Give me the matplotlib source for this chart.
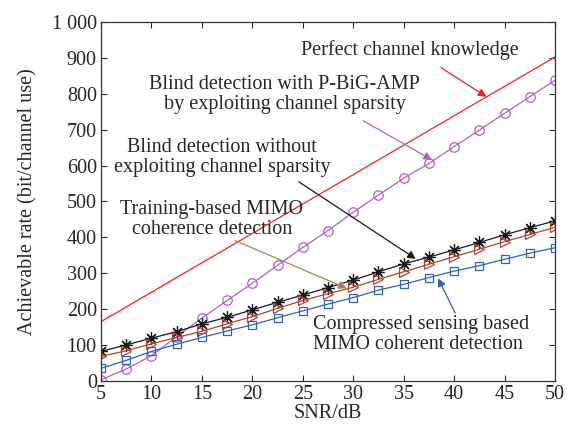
import matplotlib
matplotlib.use("Agg")
import matplotlib.pyplot as plt
from matplotlib.ticker import FuncFormatter

plt.rcParams["font.family"] = ["Liberation Serif", "DejaVu Serif"]
plt.rcParams["mathtext.fontset"] = "stix"

# values
snr = [5, 7.5, 10, 12.5, 15, 17.5, 20, 22.5, 25, 27.5, 30, 32.5, 35, 37.5, 40, 42.5, 45, 47.5, 50]
perfect = [165, 206, 247, 288, 329, 370, 411, 452, 493, 534, 575, 616, 657, 698, 739, 780, 821, 862, 903]
pbigamp = [3, 33, 70, 123, 175, 224, 272, 322, 372, 419, 470, 518, 565, 606, 653, 699, 746, 792, 838]
blind = [82, 100, 119, 137, 159, 177, 198, 219, 239, 260, 281, 304, 326, 345, 365, 386, 407, 427, 446]
training = [68, 84, 103, 121, 138, 159, 179, 202, 224, 243, 261, 283, 304, 325, 346, 367, 388, 408, 428]
compressed = [35, 57, 82, 102, 121, 139, 156, 176, 195, 214, 232, 253, 269, 288, 306, 321, 339, 356, 371]

x_ticks = [5, 10, 15, 20, 25, 30, 35, 40, 45, 50]
y_ticks = [0, 100, 200, 300, 400, 500, 600, 700, 800, 900, 1000]

RED = "#f02020"
PURPLE = "#b060c0"
BLACK = "#1a1a1a"
BROWN = "#b04430"
BLUE = "#2e62c0"
TAN = "#b08050"
TXT = "#262626"
FS = 14.5

fig = plt.figure(figsize=(5.77, 4.26), dpi=100)
ax = fig.add_axes([0.175, 0.106, 0.787, 0.842])

lw = 0.9
ax.plot(snr, perfect, color=RED, lw=lw)
ax.plot(snr, pbigamp, color=PURPLE, lw=lw, marker="o", ms=6.8, mfc="none", mew=0.9)
ax.plot(snr, blind, color=BLACK, lw=lw, marker=(8, 2, 0), ms=9, mew=0.9)
ax.plot(snr, training, color=BROWN, lw=lw, marker=">", ms=6.8, mfc="none", mew=0.9)
ax.plot(snr, compressed, color=BLUE, lw=lw, marker="s", ms=5.2, mfc="none", mew=0.9)

ax.set_xlim(5, 50)
ax.set_ylim(0, 1000)
ax.set_xticks(x_ticks)
ax.set_yticks(y_ticks)
ax.yaxis.set_major_formatter(FuncFormatter(lambda v, p: f"{int(v):,}".replace(",", " ")))
ax.tick_params(direction="in", top=True, right=True, length=4, width=0.8,
               labelsize=FS, colors=TXT, pad=3)
for s in ax.spines.values():
    s.set_color("#333333")
    s.set_linewidth(0.9)

ax.set_xlabel("SNR/dB", fontsize=FS, color=TXT, labelpad=0)
ax.set_ylabel("Achievable rate (bit/channel use)", fontsize=FS, color=TXT, labelpad=10)


def note(text, x, y, ha="center"):
    ax.text(x, y, text, fontsize=FS, color=TXT, ha=ha, va="center",
            multialignment=ha, linespacing=1.05)


def arrow(tail, head, color):
    ax.annotate("", xy=head, xytext=tail,
                arrowprops=dict(arrowstyle="-|>", color=color, lw=0.9,
                                mutation_scale=12, shrinkA=0, shrinkB=0))


note("Perfect channel knowledge", 35.6, 922)
arrow((38.7, 873), (43.2, 792), RED)

note("Blind detection with P-BiG-AMP\nby exploiting channel sparsity", 23.2, 798)
arrow((31.0, 725), (37.8, 616), PURPLE)

note("Blind detection without\nexploiting channel sparsity", 17.0, 622)
arrow((24.6, 555), (36.2, 340), BLACK)

note("Training-based MIMO\ncoherence detection", 16.0, 450)
arrow((18.3, 391), (29.35, 258), TAN)

note("Compressed sensing based\nMIMO coherent detection", 26.0, 129, ha="left")
arrow((40.1, 189), (38.4, 286), BLUE)

fig.savefig("out.png", dpi=100)
